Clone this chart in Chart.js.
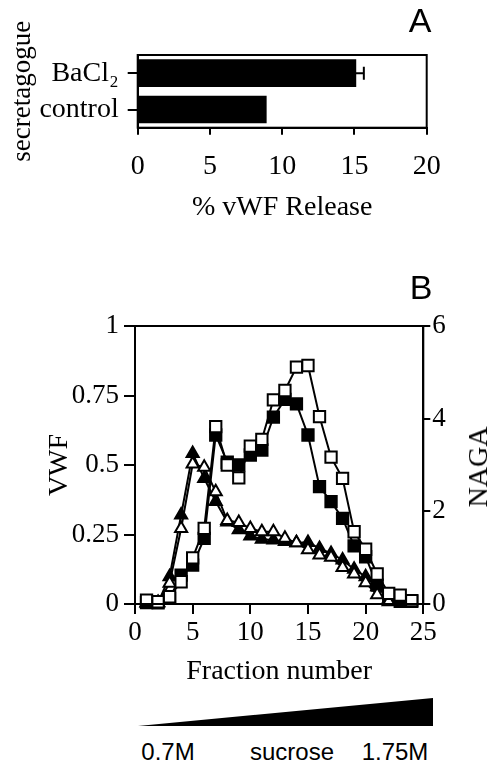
<!DOCTYPE html>
<html>
<head>
<meta charset="utf-8">
<script src="https://cdn.jsdelivr.net/npm/chart.js@4/dist/chart.umd.min.js"></script>
<style>
  body { margin: 0; background: #fff; }
  #wrap { position: relative; width: 490px; height: 763px; overflow: hidden; }
  canvas { position: absolute; left: 0; }
  .lbl { position: absolute; color: #000; white-space: nowrap; line-height: 1; }
  .panel { font-family: 'Liberation Sans', Arial, sans-serif; font-size: 34px; transform: translate(-50%, -50%); }
  .suc { font-family: 'Liberation Sans', Arial, sans-serif; font-size: 24px; transform: translate(-50%, -50%); }
  .naga { font-family: 'Liberation Serif', 'Times New Roman', serif; font-size: 28px; transform: translate(-50%, -50%) rotate(-90deg); }
  #wedge { position: absolute; left: 138px; top: 698px; width: 295px; height: 28px; background: #000;
           clip-path: polygon(0 100%, 100% 0, 100% 100%); }
</style>
</head>
<body>
<div id="wrap">
  <canvas id="chartA" width="490" height="230" style="top:0"></canvas>
  <canvas id="chartB" width="490" height="440" style="top:250px"></canvas>
  <div class="lbl panel" style="left:420px; top:20px">A</div>
  <div class="lbl panel" style="left:421px; top:287px">B</div>
  <div class="lbl naga" style="left:478px; top:467px">NAGA</div>
  <div id="wedge"></div>
  <div class="lbl suc" style="left:168px; top:752px">0.7M</div>
  <div class="lbl suc" style="left:292px; top:752px">sucrose</div>
  <div class="lbl suc" style="left:395px; top:752px">1.75M</div>
</div>
<script>
// panel A: % vWF release
const secretagogues = ['BaCl\u2082', 'control'];
const releasePct = [15.1, 8.9];
const releaseErr = [0.55, null];
const releaseTicks = [0, 5, 10, 15, 20];

// panel B: sucrose gradient fractions
const fractions = [1, 2, 3, 4, 5, 6, 7, 8, 9, 10, 11, 12, 13, 14, 15, 16, 17, 18, 19, 20, 21, 22, 23, 24];
const vwfOpen = [0.014, 0.008, 0.026, 0.08, 0.166, 0.272, 0.638, 0.5, 0.454, 0.568, 0.592, 0.734,
                 0.768, 0.852, 0.858, 0.674, 0.528, 0.452, 0.26, 0.197, 0.108, 0.038, 0.032, 0.012];
const vwfFilled = [0.005, 0.004, 0.02, 0.104, 0.14, 0.236, 0.608, 0.51, 0.5, 0.536, 0.554, 0.672,
                   0.736, 0.72, 0.608, 0.422, 0.368, 0.308, 0.209, 0.17, 0.068, 0.02, 0.01, 0.01];
const nagaOpen = [0.02, 0.02, 0.45, 1.63, 3.02, 2.95, 2.42, 1.8, 1.76, 1.63, 1.56, 1.56,
                  1.42, 1.32, 1.17, 1.06, 1.01, 0.79, 0.65, 0.46, 0.2, 0.05];
const nagaFilled = [0.02, 0.03, 0.59, 1.92, 3.25, 2.71, 2.21, 1.77, 1.6, 1.47, 1.4, 1.38,
                    1.35, 1.32, 1.33, 1.2, 1.09, 0.95, 0.75, 0.59, 0.37, 0.1];
const fractionTicks = [0, 5, 10, 15, 20, 25];
const vwfTicks = [0, 0.25, 0.5, 0.75, 1];
const nagaTicks = [0, 2, 4, 6];

Chart.defaults.font.family = "'Liberation Serif', 'Times New Roman', serif";
Chart.defaults.font.size = 27;
Chart.defaults.color = '#000';

function pts(vals) {
    return vals.map((v, i) => ({ x: fractions[i], y: v }));
}

// frame round the plot area
const boxPlugin = {
    id: 'box',
    afterDraw(chart) {
        const a = chart.chartArea, ctx = chart.ctx;
        ctx.save();
        ctx.strokeStyle = '#000';
        ctx.lineWidth = 2;
        ctx.strokeRect(a.left, a.top, a.right - a.left, a.bottom - a.top);
        ctx.restore();
    }
};

const errPlugin = {
    id: 'errbars',
    afterDatasetsDraw(chart) {
        const ctx = chart.ctx, xs = chart.scales.x;
        const meta = chart.getDatasetMeta(0);
        ctx.save();
        ctx.strokeStyle = '#000';
        ctx.lineWidth = 2;
        releaseErr.forEach((e, i) => {
            if (e == null) return;
            const y = meta.data[i].y;
            const x0 = xs.getPixelForValue(releasePct[i]);
            const x1 = xs.getPixelForValue(releasePct[i] + e);
            ctx.beginPath();
            ctx.moveTo(x0, y); ctx.lineTo(x1, y);
            ctx.moveTo(x1, y - 6.5); ctx.lineTo(x1, y + 6.5);
            ctx.stroke();
        });
        ctx.restore();
    }
};

const axisLine = { display: true, color: '#000', width: 2 };
const titleFont = { size: 28 };

new Chart(document.getElementById('chartA'), {
    type: 'bar',
    data: {
        labels: secretagogues,
        datasets: [{ data: releasePct, backgroundColor: '#000', barThickness: 27 }]
    },
    options: {
        indexAxis: 'y',
        responsive: false,
        animation: false,
        devicePixelRatio: 1,
        layout: { padding: { top: 55, right: 63.3, left: 0, bottom: 0 } },
        plugins: { legend: { display: false }, tooltip: { enabled: false } },
        scales: {
            x: {
                min: 0, max: 20,
                afterBuildTicks: s => { s.ticks = releaseTicks.map(v => ({ value: v })); },
                afterFit: s => { s.height = 102.3; },
                ticks: { padding: 15, font: { size: 28 } },
                grid: { drawOnChartArea: false, tickLength: 7, color: '#000', lineWidth: 2 },
                border: axisLine,
                title: { display: true, text: '% vWF Release', font: titleFont, padding: { top: 0, bottom: 6 } }
            },
            y: {
                afterFit: s => { s.width = 137.7; },
                ticks: { padding: 9, autoSkip: false, font: { size: 28 } },
                grid: { offset: false, drawOnChartArea: false, tickLength: 10, color: '#000', lineWidth: 2 },
                border: axisLine,
                title: { display: true, text: 'secretagogue', padding: { top: 7, bottom: 0 } }
            }
        }
    },
    plugins: [boxPlugin, errPlugin]
});

function series(vals, style, fill, axis, r) {
    return {
        data: pts(vals),
        yAxisID: axis,
        borderColor: '#000',
        borderWidth: 2,
        tension: 0,
        pointStyle: style,
        pointRadius: r,
        pointBackgroundColor: fill,
        pointBorderColor: '#000',
        pointBorderWidth: 2,
        clip: false
    };
}

new Chart(document.getElementById('chartB'), {
    type: 'line',
    data: {
        datasets: [
            series(vwfOpen, 'rect', '#fff', 'y', 8),
            series(nagaOpen, 'triangle', '#fff', 'y2', 7),
            series(vwfFilled, 'rect', '#000', 'y', 8),
            series(nagaFilled, 'triangle', '#000', 'y2', 7)
        ]
    },
    options: {
        responsive: false,
        animation: false,
        devicePixelRatio: 1,
        layout: { padding: { top: 76, right: 0, left: 0, bottom: 0 } },
        plugins: { legend: { display: false }, tooltip: { enabled: false } },
        scales: {
            x: {
                type: 'linear', min: 0, max: 25,
                afterBuildTicks: s => { s.ticks = fractionTicks.map(v => ({ value: v })); },
                afterFit: s => { s.height = 86; },
                ticks: { padding: 3 },
                grid: { drawOnChartArea: false, tickLength: 10, color: '#000', lineWidth: 2 },
                border: axisLine,
                title: { display: true, text: 'Fraction number', font: titleFont, padding: { top: 0, bottom: 2 } }
            },
            y: {
                position: 'left', min: 0, max: 1,
                afterBuildTicks: s => { s.ticks = vwfTicks.map(v => ({ value: v })); },
                afterFit: s => { s.width = 135; },
                ticks: { padding: 5, callback: v => String(v) },
                grid: { drawOnChartArea: false, tickLength: 11, color: '#000', lineWidth: 2 },
                border: axisLine,
                title: { display: true, text: 'VWF', font: titleFont, padding: { top: 43, bottom: 0 } }
            },
            y2: {
                position: 'right', min: 0, max: 6,
                afterBuildTicks: s => { s.ticks = nagaTicks.map(v => ({ value: v })); },
                afterFit: s => { s.width = 66.7; },
                ticks: { padding: 2, callback: v => String(v) },
                grid: { drawOnChartArea: false, tickLength: 7, color: '#000', lineWidth: 2 },
                border: axisLine
            }
        }
    },
    plugins: [boxPlugin]
});
</script>
</body>
</html>
